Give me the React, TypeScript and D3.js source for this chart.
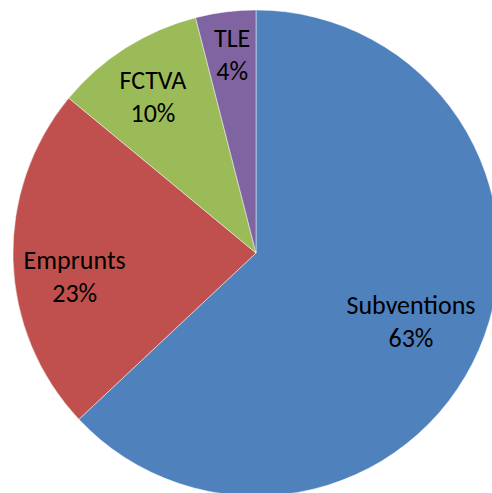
import React, { useEffect, useRef } from 'react';
import * as d3 from 'd3';

const categories = ['Subventions', 'Emprunts', 'FCTVA', 'TLE'];
const values = [63, 23, 10, 4];
const colors = ['#4F81BD', '#C0504D', '#9BBB59', '#8064A2'];
// label placement: distance as share of radius, and a small turn (rad) off the slice middle
const labelFactor = [0.713, 0.758, 0.741, 0.784];
const labelTurn = [0.055, -0.146, -0.044, 0];

const W = 492;
const H = 493;

function drawPie(el: SVGSVGElement) {
  const cx = 256;
  const cy = 253;
  const radius = 243;
  const lineGap = 33;

  const data = categories.map((name, i) => ({ name, value: values[i], i }));

  const arcs = d3.pie<any>()
    .value(d => d.value)
    .sort(null)(data);

  const arc = d3.arc<any>()
    .innerRadius(0)
    .outerRadius(radius);

  const svg = d3.select(el);
  svg.selectAll('*').remove();

  const g = svg.append('g').attr('transform', `translate(${cx},${cy})`);

  g.selectAll('path')
    .data(arcs)
    .join('path')
      .attr('fill', d => colors[d.data.i])
      .attr('stroke', '#ffffff')
      .attr('stroke-opacity', 0.6)
      .attr('stroke-width', 0.75)
      .attr('d', arc);

  g.append('g')
    .attr('font-family', 'Carlito, Calibri, "Open Sans", sans-serif')
    .attr('font-size', 26)
    .attr('text-anchor', 'middle')
    .attr('fill', '#000')
    .selectAll('text')
    .data(arcs)
    .join('text')
      .attr('transform', d => {
        const a = (d.startAngle + d.endAngle) / 2 + labelTurn[d.data.i];
        const r = radius * labelFactor[d.data.i];
        return `translate(${Math.sin(a) * r},${-Math.cos(a) * r})`;
      })
      .call(text => text.append('tspan')
        .attr('x', 0)
        .attr('y', -lineGap / 2)
        .text(d => d.data.name)
      )
      .call(text => text.append('tspan')
        .attr('x', 0)
        .attr('y', lineGap / 2)
        .text(d => `${d.data.value}%`)
      );
}

export default function App() {
  const ref = useRef<SVGSVGElement>(null);

  useEffect(() => {
    if (ref.current) drawPie(ref.current);
  }, []);

  return (
    <svg
      ref={ref}
      width={W}
      height={H}
      style={{ position: 'absolute', left: 0, top: 0, background: '#fff' }}
    />
  );
}
